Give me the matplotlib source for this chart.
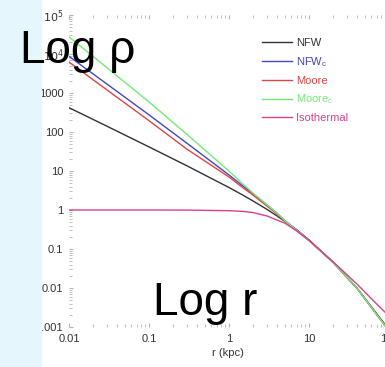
import matplotlib
matplotlib.use("Agg")
import matplotlib.pyplot as plt
from matplotlib.patches import Rectangle

plt.rcParams['font.family'] = ['Liberation Sans', 'DejaVu Sans']

# radius (kpc)
r = [0.01, 0.03, 0.1, 0.3, 1, 1.5, 2, 3, 4, 5, 7, 10, 20, 40, 70, 100]

# densities for each profile
nfw = [420, 140, 41.5, 13.5, 3.77, 2.39, 1.70, 1.03, 0.70, 0.51, 0.31, 0.17, 0.046, 0.0098, 0.0022, 0.00085]
nfw_c = [8700, 1680, 275, 51, 7.9, 4.1, 2.6, 1.33, 0.82, 0.53, 0.31, 0.17, 0.046, 0.0097, 0.0021, 0.00082]
moore = [6200, 1190, 195, 36, 7.0, 3.7, 2.4, 1.25, 0.78, 0.52, 0.30, 0.165, 0.045, 0.0098, 0.0021, 0.0008]
moore_c = [27500, 4400, 590, 86, 9.9, 4.6, 2.7, 1.35, 0.82, 0.53, 0.30, 0.165, 0.046, 0.0098, 0.0021, 0.0008]
isothermal = [1.0, 1.0, 1.0, 0.995, 0.96, 0.92, 0.86, 0.70, 0.55, 0.46, 0.29, 0.165, 0.047, 0.0125, 0.0039, 0.0019]

labels = ["NFW", r"NFW$_\mathregular{c}$", "Moore", r"Moore$_\mathregular{c}$", "Isothermal"]
colors = ["#333333", "#4444c4", "#e04444", "#74ea74", "#d8428c"]

xticks = [0.01, 0.1, 1, 10, 100]
xticklabels = ["0.01", "0.1", "1", "10", "100"]
yticks = [1e-3, 1e-2, 1e-1, 1, 10, 100, 1000, 1e4, 1e5]
yticklabels = ["0.001", "0.01", "0.1", "1", "10", "100", "1000", r"$10^4$", r"$10^5$"]

W, H = 385, 367
fig = plt.figure(figsize=(W / 100, H / 100), dpi=100)
ax = fig.add_axes([69 / W, 40 / H, 320 / W, 312 / H])

for ys, lab, c in zip([nfw, nfw_c, moore, moore_c, isothermal], labels, colors):
    ax.plot(r, ys, color=c, lw=1.0, label=lab)

ax.set_xscale("log")
ax.set_yscale("log")
ax.set_xlim(0.01, 100)
ax.set_ylim(1e-3, 1e5)

ax.set_xticks(xticks)
ax.set_xticklabels(xticklabels)
ax.set_yticks(yticks)
ax.set_yticklabels(yticklabels)

for s in ax.spines.values():
    s.set_visible(False)
ax.tick_params(which="both", direction="in", colors="#b5b5b5", labelcolor="#333333",
               top=True, right=True, labelsize=8)
ax.tick_params(which="major", length=3, width=0.8)
ax.tick_params(which="minor", length=2, width=0.6)
ax.tick_params(axis="x", pad=5)
ax.tick_params(axis="y", pad=4)

fig.text(228 / W, 1 - 353 / H, "r (kpc)", ha="center", va="center", fontsize=8, color="#333333")

ax.legend(loc="upper left", bbox_to_anchor=(262 / W, 1 - 38 / H), bbox_transform=fig.transFigure,
          frameon=False, fontsize=8, labelcolor="linecolor", handlelength=2.7,
          handletextpad=0.35, labelspacing=0.62, borderpad=0, borderaxespad=0)

# big overlay labels
fig.text(20 / W, 1 - 63 / H, "Log ρ", fontsize=33, va="baseline", ha="left", color="black", zorder=6)
fig.text(153 / W, 1 - 315 / H, "Log r", fontsize=33, va="baseline", ha="left", color="black", zorder=6)

# light blue strip on the left
fig.add_artist(Rectangle((0, 0), 42 / W, 1, transform=fig.transFigure,
                         facecolor="#e6f6fd", edgecolor="none", zorder=5))

fig.savefig("out.png", dpi=100)
